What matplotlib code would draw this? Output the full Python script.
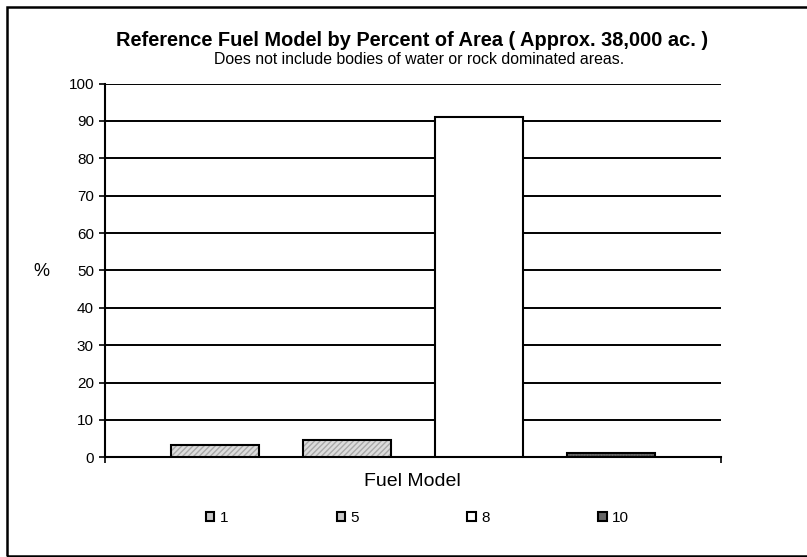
import matplotlib
matplotlib.use("Agg")
import matplotlib.pyplot as plt
from matplotlib.patches import Rectangle, Patch

plt.rcParams['font.family'] = ['Liberation Sans', 'DejaVu Sans']

# Data
fuel_models = ['1', '5', '8', '10']
percent_area = [3.3, 4.5, 91.1, 1.2]
y_ticks = list(range(0, 101, 10))

face_colors = ['#dcdcdc', '#dcdcdc', '#ffffff', '#6e6e6e']
hatch_colors = ['#a8a8a8', '#a8a8a8', '#ffffff', '#4a4a4a']
hatches = ['//////', '//////', '', '......']
legend_colors = ['#c8c8c8', '#c8c8c8', '#ffffff', '#666666']

W, H = 807, 557
fig = plt.figure(figsize=(W / 100, H / 100), dpi=100)
fig.patch.set_facecolor('white')

ax_left, ax_right, ax_top, ax_bottom = 105, 721, 83.5, 457.3
ax = fig.add_axes([ax_left / W, 1 - ax_bottom / H, (ax_right - ax_left) / W, (ax_bottom - ax_top) / H])

x = list(range(len(fuel_models)))
width = 0.667
for i, (v, fc, hc, h) in enumerate(zip(percent_area, face_colors, hatch_colors, hatches)):
    ax.bar(x[i], v, width=width, color=fc, edgecolor=hc, hatch=h, linewidth=0, zorder=3)
    ax.bar(x[i], v, width=width, fill=False, edgecolor='black', linewidth=1.5, zorder=4)

ax.set_xlim(-0.833, len(fuel_models) - 1 + 0.833)
ax.set_ylim(0, 100)
ax.set_yticks(y_ticks)
ax.set_yticklabels([str(t) for t in y_ticks], fontsize=11)
ax.yaxis.grid(True, color='black', linewidth=1.4, zorder=0)
ax.set_axisbelow(True)
ax.tick_params(axis='y', direction='out', length=4, width=1.2, pad=4)
ax.set_xticks([-0.833, len(fuel_models) - 1 + 0.833])
ax.set_xticklabels(['', ''])
ax.tick_params(axis='x', direction='out', length=4, width=1.2)
for s in ['top', 'right']:
    ax.spines[s].set_visible(False)
ax.spines['left'].set_linewidth(1.5)
ax.spines['bottom'].set_linewidth(1.5)

fig.text(41 / W, 1 - 272 / H, '%', fontsize=13, ha='center', va='center')
fig.text(412 / W, 1 - 481 / H, 'Fuel Model', fontsize=14, ha='center', va='center')
fig.text(412 / W, 1 - 40 / H, 'Reference Fuel Model by Percent of Area ( Approx. 38,000 ac. )',
         fontsize=14.4, fontweight='bold', ha='center', va='center')
fig.text(419 / W, 1 - 60 / H, 'Does not include bodies of water or rock dominated areas.',
         fontsize=11.4, ha='center', va='center')

handles = [Patch(facecolor=fc, edgecolor='black', linewidth=1.5) for fc in legend_colors]
fig.legend(handles, fuel_models, loc='center', bbox_to_anchor=(417.5 / W, 1 - 518 / H),
           ncol=4, frameon=False, fontsize=11, handlelength=0.55, handleheight=0.55,
           handletextpad=0.35, columnspacing=7.1)

fig.add_artist(Rectangle((7 / W, 1 / H), (W + 5) / W, (H - 8) / H, transform=fig.transFigure,
                         fill=False, edgecolor='black', linewidth=1.8))

fig.savefig('out.png', dpi=100)
